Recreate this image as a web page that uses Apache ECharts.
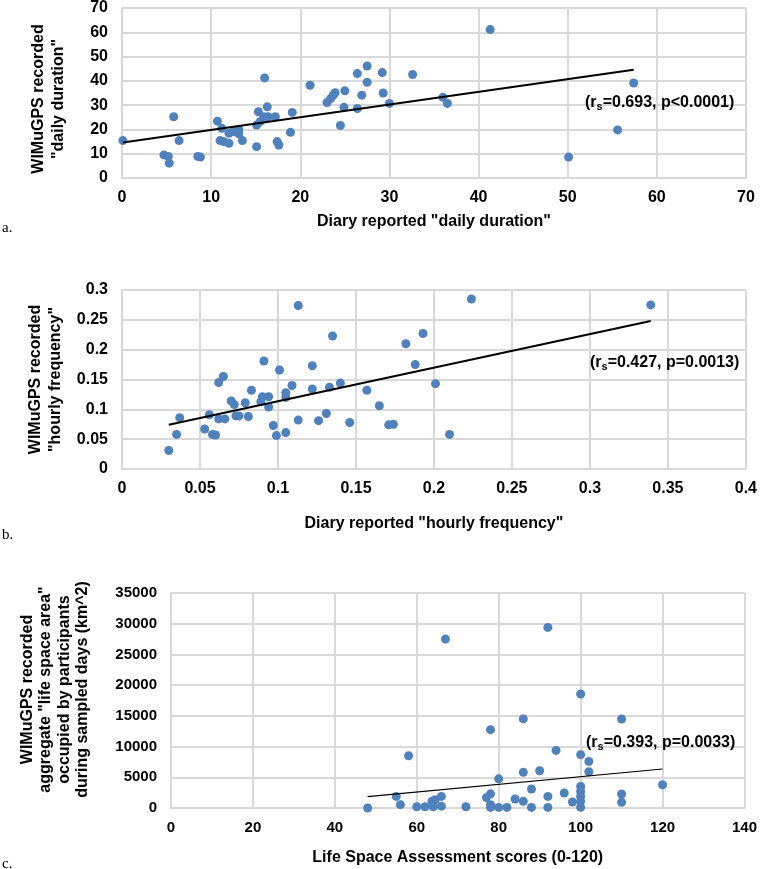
<!DOCTYPE html>
<html><head><meta charset="utf-8">
<script src="https://cdn.jsdelivr.net/npm/echarts@6/dist/echarts.min.js"></script>
<style>html,body{margin:0;padding:0;background:#fff}#c{width:760px;height:869px}</style>
</head><body><div id="c"></div>
<script>
// Panel a: daily duration
const durDiary = [0.1,4.7,5.2,5.3,5.8,6.4,8.5,8.8,10.7,11.2,11.0,11.4,12.0,12.0,12.5,13.1,13.1,13.5,15.1,15.1,15.3,16.3,15.9,16.4,17.2,15.5,16.0,17.4,17.6,18.9,19.1,21.1,23.0,23.4,23.7,23.9,25.0,24.9,24.5,26.4,26.4,26.9,27.5,27.5,29.2,29.3,30.0,32.6,36.0,36.5,41.3,50.1,55.6,57.4];
const durGps   = [15.4,9.5,8.9,6.1,25.2,15.4,8.9,8.6,23.4,20.5,15.4,15.0,14.3,18.4,19.1,20.0,18.2,15.4,12.9,21.8,27.3,29.3,25.2,25.2,25.2,23.2,41.2,15.0,13.6,18.8,27.0,38.2,31.1,32.7,34.1,35.1,35.9,29.1,21.6,43.0,28.6,34.1,46.1,39.4,43.4,35.0,30.7,42.6,33.2,30.7,61.1,8.6,19.8,39.1];
const durTrendX = [0.1, 57.4];
const durTrendY = [14.6, 44.6];

// Panel b: hourly frequency
const freqDiary = [0.030,0.035,0.037,0.053,0.056,0.058,0.060,0.062,0.065,0.062,0.066,0.070,0.072,0.073,0.075,0.079,0.081,0.083,0.089,0.091,0.090,0.094,0.094,0.097,0.099,0.101,0.105,0.105,0.105,0.109,0.113,0.113,0.122,0.122,0.126,0.131,0.133,0.135,0.140,0.146,0.157,0.165,0.171,0.174,0.182,0.188,0.193,0.201,0.210,0.224,0.339];
const freqGps   = [0.031,0.058,0.086,0.067,0.091,0.058,0.057,0.145,0.155,0.084,0.084,0.114,0.108,0.089,0.089,0.111,0.088,0.132,0.113,0.181,0.121,0.121,0.104,0.073,0.056,0.166,0.061,0.128,0.120,0.140,0.274,0.082,0.173,0.134,0.081,0.093,0.137,0.223,0.144,0.078,0.132,0.106,0.074,0.075,0.210,0.175,0.227,0.143,0.058,0.285,0.275];
const freqTrendX = [0.030, 0.339];
const freqTrendY = [0.074, 0.248];

// Panel c: life space
const lsaScore = [48,55,56,58,60,62,63.7,64,64.5,66,66,67,72,77,78,78,78,78,80,80,82,84,86,86,86,88,88,90,92,92,92,94,96,98,100,100,100,100,100,100,100,102,102,110,110,110,120];
const lsaArea  = [0,1890,540,8500,200,200,1080,200,1350,1890,300,27500,200,1700,2300,12750,540,100,4750,100,100,1460,1080,14500,5800,3100,100,6070,29400,1890,100,9380,2440,970,18560,8680,3520,2700,1890,1080,100,7590,5900,14490,2280,920,3790];
const lsaTrendX = [48, 120];
const lsaTrendY = [1850, 6350];

const xTicksA = {min:0,max:70,interval:10}, yTicksA = {min:0,max:70,interval:10};
const xTicksB = {min:0,max:0.4,interval:0.05}, yTicksB = {min:0,max:0.3,interval:0.05};
const xTicksC = {min:0,max:140,interval:20}, yTicksC = {min:0,max:35000,interval:5000};

const xNames = ['Diary reported "daily duration"','Diary reported "hourly frequency"','Life Space Assessment scores (0-120)'];
const yNames = ['WIMuGPS recorded\n"daily duration"','WIMuGPS recorded\n"hourly frequency"','WIMuGPS recorded\naggregate "life space area"\noccupied by participants\nduring sampled days (km^2)'];
const stats = [['0.693','p<0.0001'],['0.427','p=0.0013'],['0.393','p=0.0033']];
const panelLetters = ['a.','b.','c.'];

const zip = (a,b) => a.map((v,i)=>[v,b[i]]);
const FONT = '"Liberation Sans", Arial, sans-serif';
const GRID = '#d9d9d9';
const BLUE = '#4f81bd';

function xAxis(i, t, gap, fs){
  return {type:'value', gridIndex:i, min:t.min, max:t.max, interval:t.interval,
    name:xNames[i], nameLocation:'middle', nameGap:gap,
    nameTextStyle:{fontFamily:FONT,fontWeight:'bold',fontSize:16,color:'#000'},
    axisLine:{show:true,lineStyle:{color:GRID,width:2}}, axisTick:{show:false},
    axisLabel:{fontFamily:FONT,fontWeight:'bold',fontSize:fs,color:'#000',margin:12,formatter:v=>String(v)},
    splitLine:{show:true,lineStyle:{color:GRID,width:2}}};
}
function yAxis(i, t, gap, fs, lh, pad){
  return {type:'value', gridIndex:i, min:t.min, max:t.max, interval:t.interval,
    name:yNames[i], nameLocation:'middle', nameGap:gap, nameRotate:90,
    nameTextStyle:{fontFamily:FONT,fontWeight:'bold',fontSize:16,color:'#000',lineHeight:lh,padding:pad},
    axisLine:{show:true,lineStyle:{color:GRID,width:2}}, axisTick:{show:false},
    axisLabel:{fontFamily:FONT,fontWeight:'bold',fontSize:fs,color:'#000',margin:14,formatter:v=>String(v)},
    splitLine:{show:true,lineStyle:{color:GRID,width:2}}};
}
function scatter(i, xs, ys){
  return {type:'scatter', xAxisIndex:i, yAxisIndex:i, data:zip(xs,ys), symbolSize:9,
    itemStyle:{color:BLUE,opacity:1}, z:3};
}
function trend(i, xs, ys, w){
  return {type:'line', xAxisIndex:i, yAxisIndex:i, data:zip(xs,ys), showSymbol:false,
    lineStyle:{color:'#000',width:w}, z:4, silent:true};
}
function statText(i, left, top){
  return {type:'text', left:left, top:top, z:10,
    style:{text:'{a|(r}{s|s}{a|='+stats[i][0]+', '+stats[i][1]+')}',
      rich:{a:{fontFamily:FONT,fontWeight:'bold',fontSize:16,fill:'#000',lineHeight:18},
            s:{fontFamily:FONT,fontWeight:'bold',fontSize:11,fill:'#000',padding:[8,0,0,0],lineHeight:18}}}};
}
function letter(i, top){
  return {type:'text', left:2, top:top, style:{text:panelLetters[i], font:'15px "Liberation Serif", "Times New Roman", serif', fill:'#000'}};
}

const chart = echarts.init(document.getElementById('c'), null, {renderer:'canvas'});
chart.setOption({
  animation:false,
  backgroundColor:'#fff',
  grid:[
    {left:122, top:7, width:624, height:171},
    {left:122, top:290, width:626, height:179},
    {left:171, top:593, width:574, height:215}
  ],
  xAxis:[xAxis(0,xTicksA,36,16), xAxis(1,xTicksB,47,16), xAxis(2,xTicksC,42,15)],
  yAxis:[yAxis(0,yTicksA,53,16,20,[0,12,0,0]), yAxis(1,yTicksB,51,16,20,[0,0,0,0]), yAxis(2,yTicksC,79,15,18.5,[0,0,0,22])],
  series:[
    scatter(0,durDiary,durGps), trend(0,durTrendX,durTrendY,2),
    scatter(1,freqDiary,freqGps), trend(1,freqTrendX,freqTrendY,2),
    scatter(2,lsaScore,lsaArea), trend(2,lsaTrendX,lsaTrendY,1.2)
  ],
  graphic:[
    statText(0,585,93), statText(1,590,353), statText(2,586,733),
    letter(0,221), letter(1,528), letter(2,857)
  ]
});
</script></body></html>
